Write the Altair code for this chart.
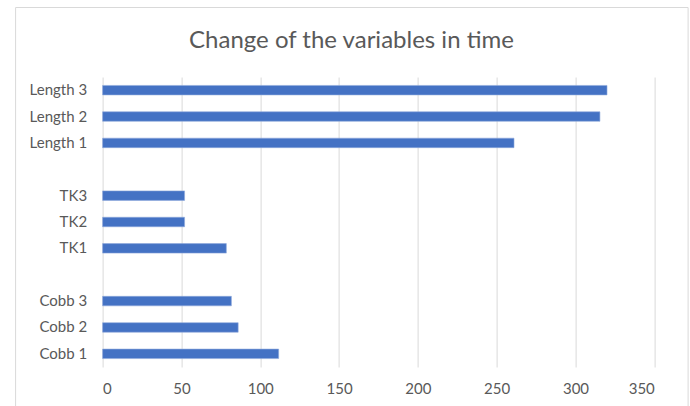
import altair as alt
import pandas as pd

categories = ["Length 3", "Length 2", "Length 1", "TK3", "TK2", "TK1", "Cobb 3", "Cobb 2", "Cobb 1"]
values = [320, 315.5, 261, 52, 52, 78.5, 81.7, 86, 111.7]
axis_order = ["Length 3", "Length 2", "Length 1", " ", "TK3", "TK2", "TK1", "  ", "Cobb 3", "Cobb 2", "Cobb 1"]
x_ticks = [0, 50, 100, 150, 200, 250, 300, 350]

df = pd.DataFrame({"var": categories, "value": values})

FONT = "Lato"
TXT = "#595959"

bars = alt.Chart(df).mark_bar(size=9.5, color="#4472C4", stroke="#8FAADC", strokeWidth=0.6).encode(
    x=alt.X("value:Q", scale=alt.Scale(domain=[0, 350], nice=False),
            axis=alt.Axis(values=x_ticks, title=None, grid=True, gridColor="#d9d9d9",
                          domain=False, ticks=False, labelPadding=14, labelFontSize=15,
                          labelColor=TXT, labelFont=FONT)),
    y=alt.Y("var:N", sort=axis_order,
            scale=alt.Scale(domain=axis_order, paddingInner=0, paddingOuter=0),
            axis=alt.Axis(title=None, domain=False, ticks=False, grid=False, labelPadding=16,
                          labelFontSize=15, labelColor=TXT, labelFont=FONT)),
)

border = alt.Chart(pd.DataFrame({"a": [0]})).mark_rect(
    fillOpacity=0, stroke="#d9d9d9", strokeWidth=1
).encode(
    x=alt.value(-87), x2=alt.value(585.5), y=alt.value(-69.5), y2=alt.value(345)
)

chart = alt.layer(border, bars).properties(
    width=551.7,
    height=290,
    background="white",
    autosize=alt.AutoSizeParams(type="none"),
    padding={"left": 102.6, "top": 77, "right": 35.7, "bottom": 39},
    title=alt.TitleParams("Change of the variables in time", anchor="middle", frame="group",
                          dx=-27, offset=-64.5, baseline="alphabetic", fontSize=24, font=FONT,
                          fontWeight="normal", color=TXT),
).configure_view(strokeWidth=0, stroke=None)

chart.save("out.html", embed_options={"renderer": "svg", "actions": False})
